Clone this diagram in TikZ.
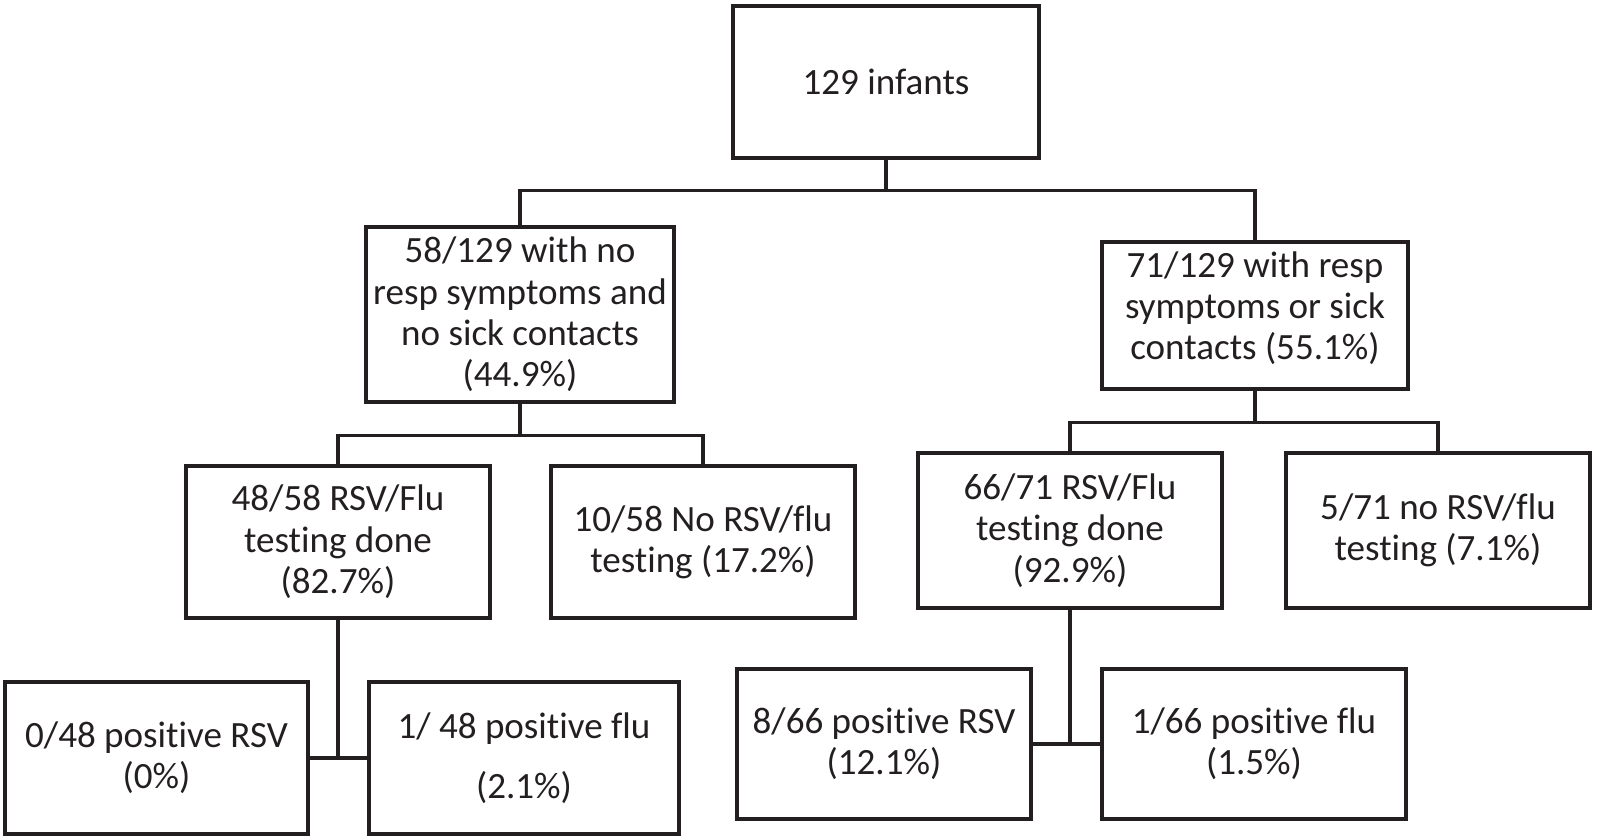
\documentclass[tikz,border=0pt]{standalone}
\usepackage{fontspec}
\setmainfont[RawFeature={-liga;-clig;-calt;-dlig}]{Carlito}
\definecolor{ink}{HTML}{231F20}
\begin{document}
\begin{tikzpicture}[x=0.75pt,y=-0.75pt,
  box/.style 2 args={draw=ink, line width=2.5pt, text=ink, align=center,
    inner sep=0pt, minimum width=#1*0.75pt, minimum height=#2*0.75pt,
    font=\fontsize{27.8}{31}\selectfont},
  conn/.style={draw=ink, line width=2.5pt}]
\useasboundingbox (0,0) rectangle (1600,836);
\node[box={306}{152}] (top) at (886,82) {129 infants};
\node[box={308}{175}] (A) at (520,314.5) {58/129 with no\\resp symptoms and\\no sick contacts\\(44.9\%)};
\node[box={306}{147}] (B) at (1255,315.5) {\raisebox{4pt}[\height][\depth]{\begin{tabular}{@{}c@{}}71/129 with resp\\symptoms or sick\\contacts (55.1\%)\end{tabular}}};
\node[box={304}{152}] (C) at (338,542) {48/58 RSV/Flu\\testing done\\(82.7\%)};
\node[box={304}{152}] (D) at (703,542) {10/58 No RSV/flu\\testing (17.2\%)};
\node[box={304}{155}] (E) at (1070,530.5) {66/71 RSV/Flu\\testing done\\(92.9\%)};
\node[box={304}{155}] (F) at (1438,530.5) {5/71 no RSV/flu\\testing (7.1\%)};
\node[box={303}{152}] (G) at (156.5,758) {0/48 positive RSV\\(0\%)};
\node[box={310}{152}] (H) at (524,758) {1/ 48 positive flu\\[14pt](2.1\%)};
\node[box={294}{150}] (I) at (884,744) {8/66 positive RSV\\(12.1\%)};
\node[box={304}{150}] (J) at (1254,744) {1/66 positive flu\\(1.5\%)};
% connectors
\draw[conn] (top.south) -- ++(0,31) coordinate (j1);
\draw[conn] (A.north) |- (j1) -| (B.north);
\draw[conn] (A.south) -- ++(0,32) coordinate (j2);
\draw[conn] (C.north) |- (j2) -| (D.north);
\draw[conn] (B.south) -- ++(0,32) coordinate (j3);
\draw[conn] (E.north) |- (j3) -| (F.north);
\draw[conn] (G.east) -- (H.west);
\draw[conn] (C.south) -- (C.south |- G.east);
\draw[conn] (I.east) -- (J.west);
\draw[conn] (E.south) -- (E.south |- I.east);
\end{tikzpicture}
\end{document}
